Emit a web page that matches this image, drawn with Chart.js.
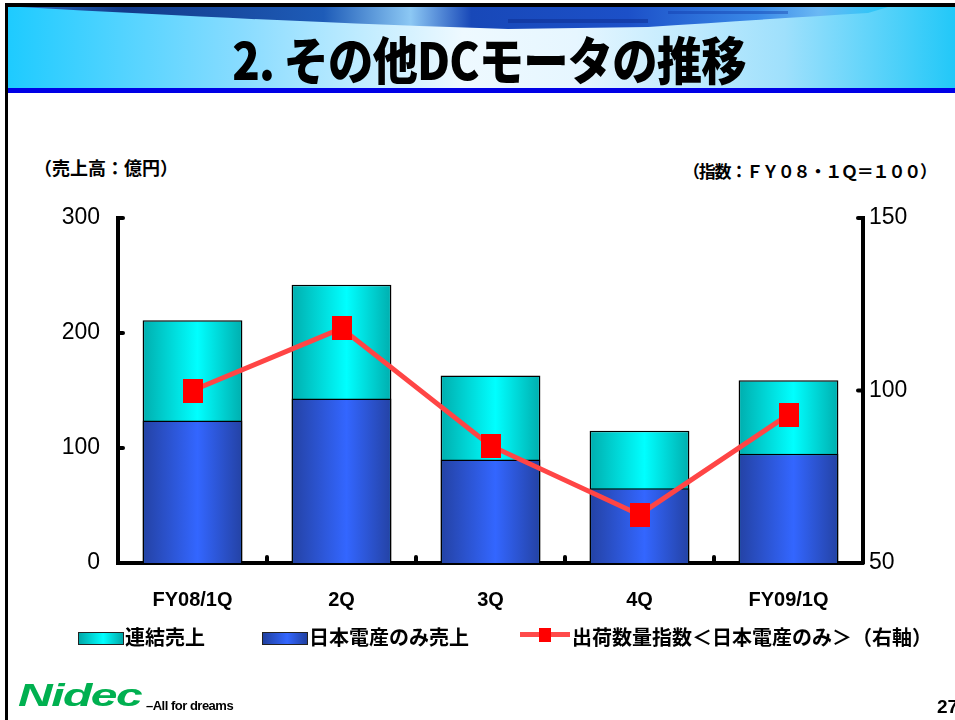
<!DOCTYPE html>
<html lang="ja">
<head>
<meta charset="utf-8">
<title>その他DCモータの推移</title>
<script src="https://cdn.jsdelivr.net/npm/chart.js@4.4.1/dist/chart.umd.min.js"></script>
<style>
  html, body { margin: 0; padding: 0; background: #fff; }
  body { width: 955px; height: 720px; position: relative; overflow: hidden;
         font-family: "Noto Sans CJK JP", "Noto Sans", sans-serif; }
  .abs { position: absolute; }
  #frameLeft { left: 5px; top: 3px; width: 3px; height: 717px; background: #000; }
  #frameTop { left: 5px; top: 3px; width: 950px; height: 4px; background: #000; }
  #banner { left: 8px; top: 7px; width: 947px; height: 81px;
            background: linear-gradient(to right, #1ecbff 0%, #8adcff 25%, #eef9ff 48%, #e6f6ff 60%, #9fe0fc 82%, #22c8f8 100%); }
  #blueLine { left: 8px; top: 88px; width: 947px; height: 5px; background: #0000e6; }
  #swoosh { left: 8px; top: 7px; }
  #title { left: 0; top: 21px; width: 978px; text-align: center; font-size: 51px; font-weight: 900;
           color: #000; transform: scaleX(0.89); transform-origin: 489px 0; letter-spacing: -1px; white-space: nowrap; }
  #chart { left: 0; top: 0; }
  .unit { font-size: 18px; font-weight: bold; color: #000; white-space: nowrap; }
  #unitLeft { left: 34px; top: 154px; }
  #unitRight { left: 683px; top: 158px; font-size: 17px; letter-spacing: -1.2px; }
  .legend { top: 622px; font-size: 20px; font-weight: bold; white-space: nowrap; }
  .box { position: absolute; top: 632px; width: 44px; height: 11px; border: 1px solid #222; }
  #boxCyan { left: 78px; background: linear-gradient(to right, #00a8a8, #00ffff 55%, #00a8a8); }
  #boxBlue { left: 262px; background: linear-gradient(to right, #2040a0, #3366ff 55%, #2040a0); }
  #legLine { left: 520px; top: 632px; width: 50px; height: 5px; background: #ff4a4a; }
  #legMark { left: 539px; top: 628px; width: 12px; height: 14px; background: #ff0000; }
  #logo { left: 18px; top: 678px; font-family: "Liberation Sans", sans-serif; font-size: 31px; font-weight: bold;
          font-style: italic; color: #00b050; transform: scaleX(1.55); transform-origin: 0 0; letter-spacing: -1px; }
  #tagline { left: 146px; top: 698px; font-family: "Liberation Sans", sans-serif;
             font-size: 13px; font-weight: bold; color: #000; letter-spacing: -0.5px; }
  #page { left: 937px; top: 696px; font-family: "Liberation Sans", sans-serif;
          font-size: 19px; font-weight: bold; }
</style>
</head>
<body>
<div id="banner" class="abs"></div>
<svg id="swoosh" class="abs" width="947" height="30" viewBox="0 0 947 30">
  <defs>
    <linearGradient id="sw" x1="0" x2="1" y1="0" y2="0">
      <stop offset="0" stop-color="#2a6fc0"/>
      <stop offset="0.12" stop-color="#123a8a"/>
      <stop offset="0.35" stop-color="#1e5cb8"/>
      <stop offset="0.45" stop-color="#8cc8f4"/>
      <stop offset="0.52" stop-color="#1848b8"/>
      <stop offset="0.7" stop-color="#1c50c8"/>
      <stop offset="0.85" stop-color="#3a8ae8"/>
      <stop offset="0.92" stop-color="#6ab8f4"/>
      <stop offset="1" stop-color="#22c8f8"/>
    </linearGradient>
  </defs>
  <path d="M12,0 L880,0 L860,6 Q760,12 640,20 L500,22 Q300,16 12,0 Z" fill="url(#sw)"/>
  <rect x="500" y="12" width="140" height="4" fill="#0c2c90" opacity="0.5"/>
  <rect x="660" y="4" width="120" height="3" fill="#1038a8" opacity="0.4"/>
</svg>
<div id="blueLine" class="abs"></div>
<div id="frameTop" class="abs"></div>
<div id="frameLeft" class="abs"></div>
<div id="title" class="abs">2. その他DCモータの推移</div>

<div id="unitLeft" class="abs unit">（売上高：億円）</div>
<div id="unitRight" class="abs unit">（指数：ＦＹ０８・１Ｑ＝１００）</div>

<canvas id="chart" class="abs" width="955" height="720"></canvas>

<div id="boxCyan" class="box"></div>
<div class="abs legend" style="left:125px">連結売上</div>
<div id="boxBlue" class="box"></div>
<div class="abs legend" style="left:309px">日本電産のみ売上</div>
<div id="legLine" class="abs"></div>
<div id="legMark" class="abs"></div>
<div class="abs legend" style="left:572px">出荷数量指数＜日本電産のみ＞（右軸）</div>

<div id="logo" class="abs">Nidec</div>
<div id="tagline" class="abs">–All for dreams</div>
<div id="page" class="abs">27</div>

<script>
// quarters on the x axis
const quarters = ["FY08/1Q", "2Q", "3Q", "4Q", "FY09/1Q"];
// sales, 100 million yen (left axis)
const consolidatedSales = [211, 242, 163, 115, 159];
const nidecOnlySales = [124, 143, 90, 65, 95];
// shipment volume index, FY08 1Q = 100 (right axis)
const shipmentIndex = [100, 118, 84, 64, 93];

const salesTicks = [0, 100, 200, 300];
const indexTicks = [50, 100, 150];

const BAR_PCT = 0.67;

// horizontal shading across each bar, like the original cylinders
function barShade(dark, light) {
  return (ctx) => {
    const chart = ctx.chart;
    const xs = chart.scales.x;
    if (!chart.chartArea || !xs || ctx.dataIndex === undefined) return light;
    const cx = xs.getPixelForValue(ctx.dataIndex);
    const half = (xs.width / quarters.length) * BAR_PCT / 2;
    const g = chart.ctx.createLinearGradient(cx - half, 0, cx + half, 0);
    g.addColorStop(0, dark);
    g.addColorStop(0.55, light);
    g.addColorStop(1, dark);
    return g;
  };
}

// red marker, a little taller than wide
const marker = document.createElement("canvas");
marker.width = 20;
marker.height = 24;
const mctx = marker.getContext("2d");
mctx.fillStyle = "#ff0000";
mctx.fillRect(0, 0, 20, 24);

// short tick marks pointing into the plot
const innerTicks = {
  id: "innerTicks",
  afterDraw(chart) {
    const { ctx, chartArea: a, scales } = chart;
    ctx.save();
    ctx.strokeStyle = "#000";
    ctx.lineWidth = 4;
    ctx.lineCap = "round";
    scales.y.ticks.forEach((t) => {
      const y = scales.y.getPixelForValue(t.value);
      ctx.beginPath(); ctx.moveTo(a.left, y); ctx.lineTo(a.left + 5, y); ctx.stroke();
    });
    scales.y2.ticks.forEach((t) => {
      const y = scales.y2.getPixelForValue(t.value);
      ctx.beginPath(); ctx.moveTo(a.right, y); ctx.lineTo(a.right - 5, y); ctx.stroke();
    });
    for (let i = 1; i < quarters.length; i++) {
      const x = (scales.x.getPixelForValue(i - 1) + scales.x.getPixelForValue(i)) / 2;
      ctx.beginPath(); ctx.moveTo(x, a.bottom); ctx.lineTo(x, a.bottom - 6); ctx.stroke();
    }
    ctx.restore();
  }
};

const tickFont = { family: "'Liberation Sans', sans-serif", size: 23 };

new Chart(document.getElementById("chart"), {
  data: {
    labels: quarters,
    datasets: [
      {
        type: "line",
        label: "出荷数量指数＜日本電産のみ＞（右軸）",
        data: shipmentIndex,
        yAxisID: "y2",
        borderColor: "#ff4545",
        borderWidth: 5,
        pointStyle: marker,
        pointRadius: 12,
        tension: 0,
        order: 0
      },
      {
        type: "bar",
        label: "日本電産のみ売上",
        data: nidecOnlySales,
        yAxisID: "y",
        backgroundColor: barShade("#2442a4", "#3366ff"),
        borderColor: "#000",
        borderWidth: 1.5,
        grouped: false,
        order: 1
      },
      {
        type: "bar",
        label: "連結売上",
        data: consolidatedSales,
        yAxisID: "y",
        backgroundColor: barShade("#00aeae", "#00ffff"),
        borderColor: "#000",
        borderWidth: 1.5,
        grouped: false,
        order: 2
      }
    ]
  },
  options: {
    responsive: false,
    animation: false,
    layout: { padding: { top: 218, left: 0, right: 0, bottom: 0 } },
    datasets: { bar: { barPercentage: BAR_PCT, categoryPercentage: 1 } },
    plugins: {
      legend: { display: false },
      tooltip: { enabled: false }
    },
    scales: {
      x: {
        grid: { display: false, drawTicks: false },
        border: { color: "#000", width: 4 },
        ticks: { color: "#000", padding: 25, font: { family: "'Liberation Sans', sans-serif", size: 20, weight: "bold" } },
        afterFit: (s) => { s.height = 157; }
      },
      y: {
        position: "left",
        min: 0,
        max: 300,
        afterBuildTicks: (s) => { s.ticks = salesTicks.map((v) => ({ value: v })); },
        grid: { display: false, drawTicks: false },
        border: { color: "#000", width: 4 },
        ticks: { color: "#000", padding: 18, font: tickFont },
        afterFit: (s) => { s.width = 118; }
      },
      y2: {
        position: "right",
        min: 50,
        max: 150,
        afterBuildTicks: (s) => { s.ticks = indexTicks.map((v) => ({ value: v })); },
        grid: { display: false, drawTicks: false },
        border: { color: "#000", width: 4 },
        ticks: { color: "#000", padding: 6, font: tickFont },
        afterFit: (s) => { s.width = 92; }
      }
    }
  },
  plugins: [innerTicks]
});
</script>
</body>
</html>
